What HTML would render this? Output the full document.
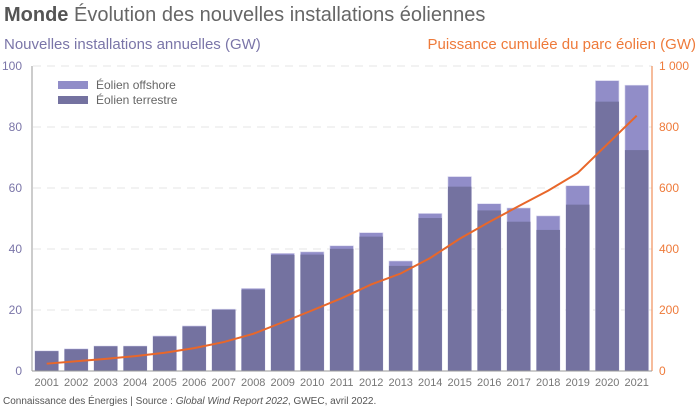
<!DOCTYPE html>
<html><head><meta charset="utf-8"><style>
body{margin:0;background:#fff}
svg{display:block;font-family:"Liberation Sans",sans-serif}
</style></head><body>
<svg width="700" height="406" viewBox="0 0 700 406" xmlns="http://www.w3.org/2000/svg">
<text x="4" y="21" font-size="20" fill="#666"><tspan font-weight="bold" fill="#555">Monde</tspan> Évolution des nouvelles installations éoliennes</text>
<text x="4" y="49" font-size="15" fill="#7a75a8">Nouvelles installations annuelles (GW)</text>
<text x="696" y="49" font-size="15" fill="#ee7a3a" text-anchor="end">Puissance cumulée du parc éolien (GW)</text>
<g stroke="#e6e6e6" stroke-dasharray="8,6" stroke-width="1">
<line x1="33" x2="652" y1="66" y2="66"/><line x1="33" x2="652" y1="127" y2="127"/><line x1="33" x2="652" y1="188" y2="188"/><line x1="33" x2="652" y1="249" y2="249"/><line x1="33" x2="652" y1="310" y2="310"/>
</g>
<g font-size="12" fill="#7a75a8" text-anchor="end">
<text x="22" y="70">100</text><text x="22" y="131">80</text><text x="22" y="192">60</text><text x="22" y="253">40</text><text x="22" y="314">20</text><text x="22" y="375">0</text>
</g>
<g font-size="12" fill="#ee7a3a">
<text x="659" y="70">1 000</text><text x="659" y="131">800</text><text x="659" y="192">600</text><text x="659" y="253">400</text><text x="659" y="314">200</text><text x="659" y="375">0</text>
</g>
<g fill="#918dc8" stroke="#d8d6ee" stroke-width="0.6">
<rect x="34.95" y="350.9" width="23.5" height="19.8"/>
<rect x="64.45" y="348.76" width="23.5" height="21.94"/>
<rect x="93.95" y="346.02" width="23.5" height="24.68"/>
<rect x="123.45" y="346.02" width="23.5" height="24.68"/>
<rect x="152.95" y="335.96" width="23.5" height="34.74"/>
<rect x="182.45" y="325.91" width="23.5" height="44.79"/>
<rect x="211.95" y="309.15" width="23.5" height="61.55"/>
<rect x="241.45" y="288.43" width="23.5" height="82.27"/>
<rect x="270.95" y="253.39" width="23.5" height="117.31"/>
<rect x="300.45" y="251.87" width="23.5" height="118.83"/>
<rect x="329.95" y="245.77" width="23.5" height="124.93"/>
<rect x="359.45" y="232.67" width="23.5" height="138.03"/>
<rect x="388.95" y="261.01" width="23.5" height="109.69"/>
<rect x="418.45" y="213.47" width="23.5" height="157.23"/>
<rect x="447.95" y="176.61" width="23.5" height="194.09"/>
<rect x="477.45" y="203.72" width="23.5" height="166.98"/>
<rect x="506.95" y="207.99" width="23.5" height="162.71"/>
<rect x="536.45" y="215.91" width="23.5" height="154.79"/>
<rect x="565.95" y="185.75" width="23.5" height="184.95"/>
<rect x="595.45" y="80.63" width="23.5" height="290.07"/>
<rect x="624.95" y="85.2" width="23.5" height="285.5"/>
</g>
<g fill="#7472a0">
<rect x="34.95" y="351.2" width="23.5" height="19.5"/>
<rect x="64.45" y="349.37" width="23.5" height="21.33"/>
<rect x="93.95" y="346.32" width="23.5" height="24.38"/>
<rect x="123.45" y="346.32" width="23.5" height="24.38"/>
<rect x="152.95" y="336.57" width="23.5" height="34.13"/>
<rect x="182.45" y="326.52" width="23.5" height="44.18"/>
<rect x="211.95" y="309.76" width="23.5" height="60.94"/>
<rect x="241.45" y="289.65" width="23.5" height="81.05"/>
<rect x="270.95" y="254.91" width="23.5" height="115.79"/>
<rect x="300.45" y="254.61" width="23.5" height="116.09"/>
<rect x="329.95" y="248.82" width="23.5" height="121.88"/>
<rect x="359.45" y="236.63" width="23.5" height="134.07"/>
<rect x="388.95" y="265.88" width="23.5" height="104.82"/>
<rect x="418.45" y="218.05" width="23.5" height="152.65"/>
<rect x="447.95" y="186.66" width="23.5" height="184.04"/>
<rect x="477.45" y="210.43" width="23.5" height="160.27"/>
<rect x="506.95" y="221.7" width="23.5" height="149"/>
<rect x="536.45" y="229.93" width="23.5" height="140.77"/>
<rect x="565.95" y="204.64" width="23.5" height="166.06"/>
<rect x="595.45" y="101.65" width="23.5" height="269.05"/>
<rect x="624.95" y="150.1" width="23.5" height="220.6"/>
</g>
<g font-size="11" fill="#777" text-anchor="middle">
<text x="46.7" y="386">2001</text><text x="76.2" y="386">2002</text><text x="105.7" y="386">2003</text><text x="135.2" y="386">2004</text><text x="164.7" y="386">2005</text><text x="194.2" y="386">2006</text><text x="223.7" y="386">2007</text><text x="253.2" y="386">2008</text><text x="282.7" y="386">2009</text><text x="312.2" y="386">2010</text><text x="341.7" y="386">2011</text><text x="371.2" y="386">2012</text><text x="400.7" y="386">2013</text><text x="430.2" y="386">2014</text><text x="459.7" y="386">2015</text><text x="489.2" y="386">2016</text><text x="518.7" y="386">2017</text><text x="548.2" y="386">2018</text><text x="577.7" y="386">2019</text><text x="607.2" y="386">2020</text><text x="636.7" y="386">2021</text>
</g>
<polyline fill="none" stroke="#e8672a" stroke-width="2" points="46.7,363.69 76.2,361.25 105.7,358.82 135.2,356.07 164.7,352.72 194.2,348.15 223.7,342.06 253.2,333.83 282.7,322.25 312.2,310.37 341.7,298.18 371.2,284.47 400.7,273.5 430.2,257.96 459.7,238.76 489.2,222.01 518.7,206.16 548.2,190.62 577.7,172.95 607.2,144.31 636.7,115.67"/>
<line x1="32" y1="66" x2="32" y2="371" stroke="#999" stroke-width="1"/>
<line x1="652" y1="66" x2="652" y2="371" stroke="#ee7a3a" stroke-width="1"/>
<line x1="32" y1="371" x2="652" y2="371" stroke="#999" stroke-width="1"/>
<rect x="58" y="81" width="30" height="8" fill="#918dc8"/>
<rect x="58" y="96" width="30" height="8" fill="#7472a0"/>
<text x="96" y="89" font-size="12" fill="#666">Éolien offshore</text>
<text x="96" y="104" font-size="12" fill="#666">Éolien terrestre</text>
<text x="3" y="404" font-size="10" fill="#555">Connaissance des Énergies | Source : <tspan font-style="italic">Global Wind Report 2022</tspan>, GWEC, avril 2022.</text>
</svg>
</body></html>
